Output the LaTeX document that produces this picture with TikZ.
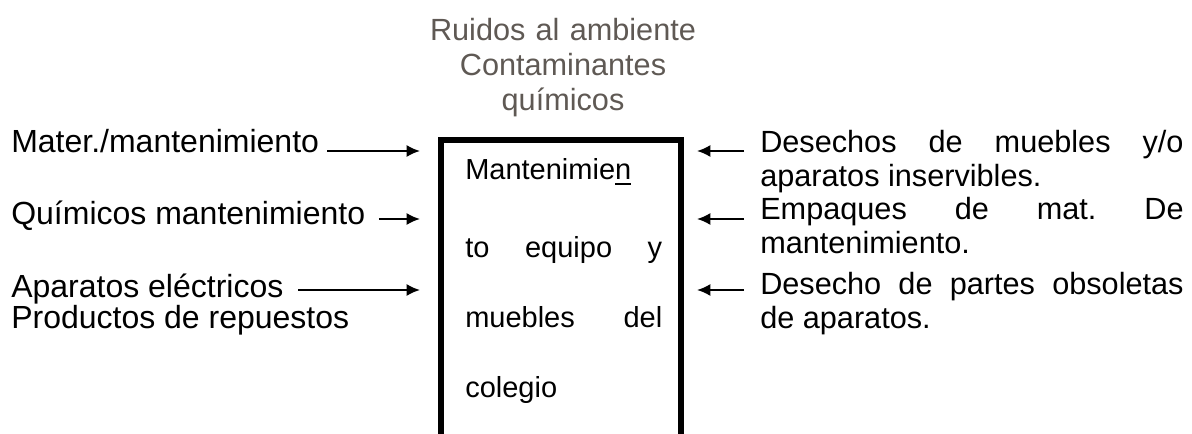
\documentclass[tikz,border=0pt]{standalone}
\usepackage{fontspec}
\setmainfont{Liberation Sans}
\usetikzlibrary{arrows.meta}
\frenchspacing
\definecolor{ruidogray}{RGB}{95,89,84}
\newlength\cajaw \setlength\cajaw{147.75pt}
\newlength\descw \setlength\descw{317.5pt}
\newcommand\subr[1]{\setbox0\hbox{#1}\rlap{\rule[-4pt]{\wd0}{1.5pt}}#1}
\tikzset{
  flecha/.style={line width=1.4pt, -{Latex[length=10pt,width=9pt]}},
  etiq/.style={inner sep=0pt, anchor=base west, font=\fontsize{24}{25.5}\selectfont},
  salida/.style={inner sep=0pt, anchor=base west, text width=\descw, align=justify,
    font=\fontsize{23}{25.5}\selectfont},
}
\begin{document}
\begin{tikzpicture}[x=0.75pt,y=-0.75pt]
  \useasboundingbox (0,0) rectangle (1192,434);
  \clip (0,0) rectangle (1192,434);
  % The process box runs off the bottom of the page.
  \node[draw, line width=4.5pt, outer sep=0pt, anchor=north west,
    minimum width=180pt, minimum height=240pt] (caja) at (441,140) {};
  \node[inner sep=0pt, anchor=base west, text width=\cajaw, align=justify,
    font=\fontsize{21.75}{52.5}\selectfont] (proceso) at (465,180)
    {Mantenimie\subr{n}\\[6pt]
     \makebox[\cajaw][s]{to equipo y}\\
     \makebox[\cajaw][s]{muebles del}\\
     colegio};
  % Emissions above the box.
  \node[inner sep=0pt, anchor=base, text width=220pt, align=center, text=ruidogray,
    font=\fontsize{23}{26.25}\selectfont] (ruido) at (563,41)
    {Ruidos al ambiente\\Contaminantes\\químicos};
  % Rows of the arrows.
  \coordinate (f1) at (0,151);
  \coordinate (f2) at (0,219);
  \coordinate (f3) at (0,290);
  % Inputs on the left.
  \node[etiq] (mater) at (11,153) {Mater./mantenimiento};
  \node[etiq] (quim) at (11,225) {Químicos mantenimiento};
  \node[etiq] (apar) at (11,298) {Aparatos eléctricos};
  \node[etiq] (prod) at (11,329) {Productos de repuestos};
  \draw[flecha, shorten <=6pt, shorten >=15.75pt] (mater.east |- f1) -- (caja.west |- f1);
  \draw[flecha, shorten <=10pt, shorten >=15.75pt] (quim.east |- f2) -- (caja.west |- f2);
  \draw[flecha, shorten <=11pt, shorten >=15.75pt] (apar.east |- f3) -- (caja.west |- f3);
  % Outputs on the right.
  \node[salida] (desech) at (760,153)
    {\makebox[\descw][s]{Desechos de muebles y/o}\\aparatos inservibles.};
  \node[salida] (empaq) at (760,220)
    {\makebox[\descw][s]{Empaques de mat. De}\\mantenimiento.};
  \node[salida] (partes) at (760,295)
    {\makebox[\descw][s]{Desecho de partes obsoletas}\\de aparatos.};
  \draw[flecha, shorten <=12pt, shorten >=12pt] (desech.west |- f1) -- (caja.east |- f1);
  \draw[flecha, shorten <=12pt, shorten >=12pt] (empaq.west |- f2) -- (caja.east |- f2);
  \draw[flecha, shorten <=12pt, shorten >=12pt] (partes.west |- f3) -- (caja.east |- f3);
\end{tikzpicture}
\end{document}
